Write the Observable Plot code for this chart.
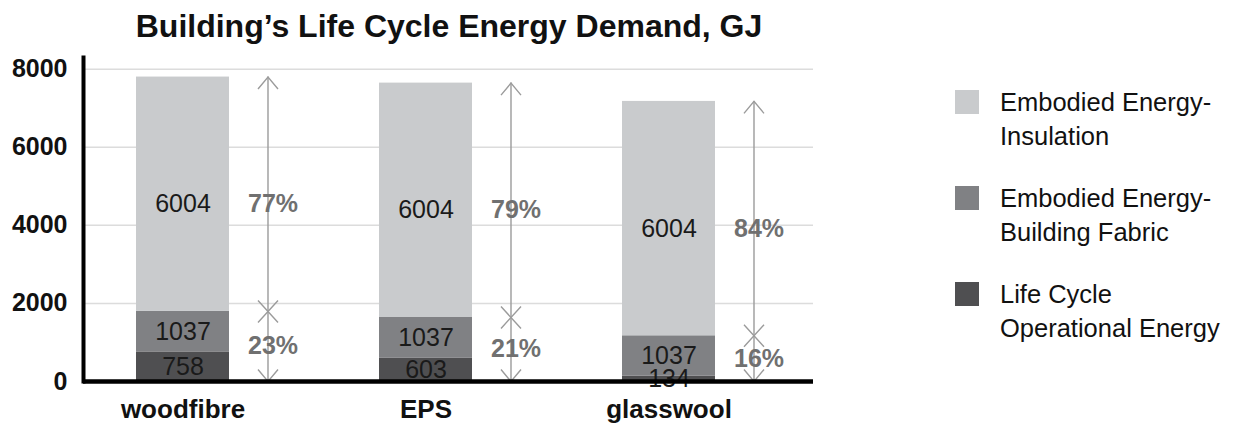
<!DOCTYPE html>
<html><head><meta charset="utf-8">
<script src="https://cdn.jsdelivr.net/npm/d3@7"></script>
<script src="https://cdn.jsdelivr.net/npm/@observablehq/plot@0.6"></script>
<style>
body{margin:0;background:#fff;font-family:"Liberation Sans",Arial,sans-serif;}
#wrap{position:relative;width:1240px;height:423px;overflow:hidden;}
#title{position:absolute;left:0;top:10px;width:898px;height:32px;text-align:center;font-weight:bold;font-size:32px;line-height:32px;color:#111;white-space:nowrap;}
#chart{position:absolute;left:0;top:50px;}
#legend{position:absolute;left:955px;top:85px;}
.item{display:flex;align-items:flex-start;margin-bottom:28px;}
.sw{width:24px;height:24px;margin-right:21px;margin-top:5px;flex:none;}
.lt{font-size:25.5px;line-height:34px;color:#111;}
</style>
</head><body>
<div id="wrap">
  <div id="title">Building’s Life Cycle Energy Demand, GJ</div>
  <div id="chart"></div>
  <div id="legend"></div>
</div>
<script>
const categories = ["woodfibre", "EPS", "glasswool"];
const seriesNames = ["Life Cycle Operational Energy", "Embodied Energy-Building Fabric", "Embodied Energy-Insulation"];
const legendLines = [["Embodied Energy-", "Insulation"], ["Embodied Energy-", "Building Fabric"], ["Life Cycle", "Operational Energy"]];
const operational = [758, 603, 134];
const fabric = [1037, 1037, 1037];
const insulation = [6004, 6004, 6004];
const yTicks = [0, 2000, 4000, 6000, 8000];
const colors = ["#4f4f51", "#808184", "#c9cbcd"];

const series = [operational, fabric, insulation];
const rows = [];
const totals = [];
categories.forEach((cat, i) => {
  let acc = 0;
  series.forEach((vals, s) => {
    const v = vals[i];
    rows.push({cat, series: seriesNames[s], value: v, y1: acc, y2: acc + v, mid: acc + v / 2, top: s === 2});
    acc += v;
  });
  const lower = operational[i] + fabric[i];
  const up = Math.round(insulation[i] / acc * 100);
  totals.push({cat, total: acc, split: lower, upMid: (lower + acc) / 2, lowMid: lower / 2,
    upPct: up + "%", lowPct: (100 - up) + "%"});
});

const chevUp = {draw(ctx) { ctx.moveTo(-10, 12); ctx.lineTo(0, 0); ctx.lineTo(10, 12); }};
const chevDown = {draw(ctx) { ctx.moveTo(-10, -12); ctx.lineTo(0, 0); ctx.lineTo(10, -12); }};
const cross = {draw(ctx) { ctx.moveTo(-10, -11); ctx.lineTo(10, 11); ctx.moveTo(10, -11); ctx.lineTo(-10, 11); }};

const arrowStroke = "#9b9b9b";
const DX = 85;

const chart = Plot.plot({
  width: 830,
  height: 373,
  marginLeft: 83,
  marginRight: 17,
  marginTop: 7,
  marginBottom: 42,
  style: {fontFamily: "'Liberation Sans', Arial, sans-serif", background: "#fff", color: "#111", overflow: "visible"},
  x: {domain: categories, paddingInner: 0.617, paddingOuter: 0.31, align: 0.35, label: null},
  y: {domain: [0, 8300], label: null},
  color: {domain: seriesNames, range: colors},
  marks: [
    Plot.ruleY(yTicks.filter(d => d > 0), {stroke: "#dcdcdc", strokeWidth: 1.5}),
    Plot.barY(rows, {x: "cat", y1: "y1", y2: "y2", fill: "series"}),
    Plot.text(rows.filter(d => !d.top), {x: "cat", y: "mid", text: d => String(d.value), fontSize: 25, fill: "#1a1a1a"}),
    Plot.text(rows.filter(d => d.top), {x: "cat", y: "mid", text: d => String(d.value), fontSize: 25, fill: "#1a1a1a", dy: 10}),
    Plot.ruleX(totals, {x: "cat", y1: 0, y2: "total", dx: DX, stroke: arrowStroke, strokeWidth: 1.4}),
    Plot.dot(totals, {x: "cat", y: "total", dx: DX, symbol: chevUp, fill: "none", stroke: arrowStroke, strokeWidth: 1.4}),
    Plot.dot(totals, {x: "cat", y: 0, dx: DX, symbol: chevDown, fill: "none", stroke: arrowStroke, strokeWidth: 1.4}),
    Plot.dot(totals, {x: "cat", y: "split", dx: DX, symbol: cross, fill: "none", stroke: arrowStroke, strokeWidth: 1.4}),
    Plot.text(totals, {x: "cat", y: "upMid", text: "upPct", dx: DX + 5, dy: 10, fontSize: 25, fontWeight: "bold", fill: "#707070"}),
    Plot.text(totals, {x: "cat", y: "lowMid", text: "lowPct", dx: DX + 5, fontSize: 25, fontWeight: "bold", fill: "#707070"}),
    Plot.ruleY([0], {stroke: "#000", strokeWidth: 4.5}),
    Plot.frame({anchor: "left", stroke: "#000", strokeWidth: 4}),
    Plot.axisY({ticks: yTicks, tickSize: 0, tickPadding: 16, fontSize: 25, fontWeight: "bold", label: null, tickFormat: d => String(d)}),
    Plot.axisX({tickSize: 0, tickPadding: 18, fontSize: 26, fontWeight: "bold", label: null})
  ]
});
document.getElementById("chart").appendChild(chart);

const legend = document.getElementById("legend");
[2, 1, 0].forEach((s, k) => {
  const item = document.createElement("div");
  item.className = "item";
  const sw = document.createElement("div");
  sw.className = "sw";
  sw.style.background = colors[s];
  const lt = document.createElement("div");
  lt.className = "lt";
  lt.innerHTML = legendLines[k].join("<br>");
  item.appendChild(sw);
  item.appendChild(lt);
  legend.appendChild(item);
});
</script>
</body></html>
